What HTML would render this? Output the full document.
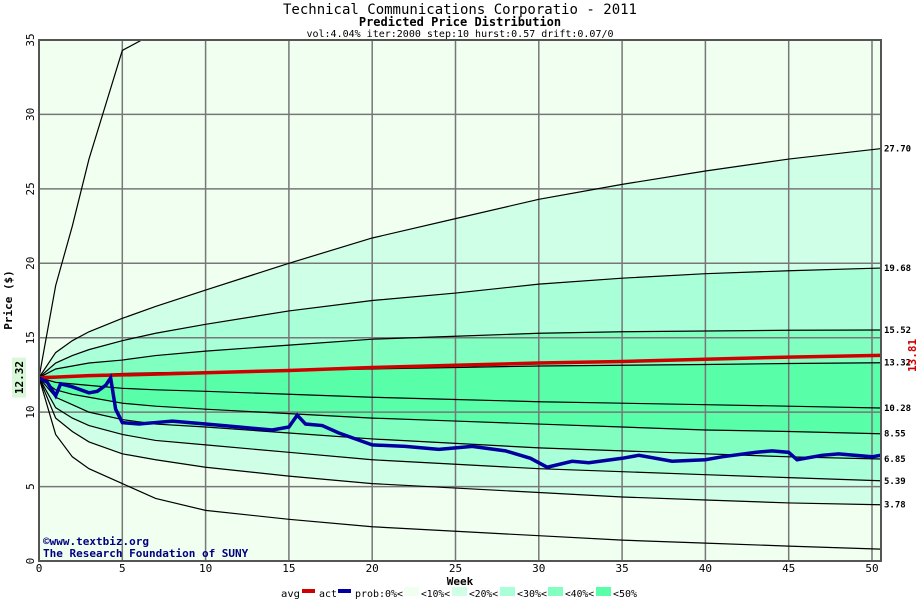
<!DOCTYPE html>
<html><head><meta charset="utf-8"><style>
body{margin:0;background:#fff}
svg text{font-family:"DejaVu Sans Mono","Liberation Mono",monospace}
</style></head><body>
<svg id="c" width="920" height="600">
<text x="460" y="14" text-anchor="middle" font-size="14">Technical Communications Corporatio - 2011</text>
<text x="460" y="26" text-anchor="middle" font-size="12" font-weight="bold">Predicted Price Distribution</text>
<text x="460" y="37" text-anchor="middle" font-size="10">vol:4.04% iter:2000 step:10 hurst:0.57 drift:0.07/0</text>
<g id="plot"></g>
</svg>
<script>
const weeks=[0,1,2,3,5,7,10,15,20,25,30,35,40,45,50.5];
const topOuter=[12.32,18.5,22.5,27,34.3,35.5,37,39,40,41,42,43,44,45,46];
const p90=[12.32,14,14.8,15.4,16.3,17.1,18.2,20,21.7,23,24.3,25.3,26.2,27,27.7];
const p80=[12.32,13.3,13.8,14.2,14.8,15.3,15.9,16.8,17.5,18,18.6,19,19.3,19.5,19.68];
const p70=[12.32,12.9,13.1,13.3,13.5,13.8,14.1,14.5,14.9,15.1,15.3,15.4,15.45,15.5,15.52];
const p60=[12.32,12.4,12.45,12.5,12.6,12.65,12.7,12.8,12.9,13,13.1,13.15,13.2,13.27,13.32];
const p50=[12.32,12,11.9,11.8,11.6,11.5,11.4,11.2,11,10.85,10.7,10.6,10.5,10.4,10.28];
const p40=[12.32,11.5,11.2,11,10.6,10.4,10.2,9.9,9.6,9.4,9.2,9,8.8,8.7,8.55];
const p30=[12.32,11,10.5,10,9.5,9.2,9,8.6,8.2,7.9,7.6,7.4,7.2,7,6.85];
const p20=[12.32,10.3,9.6,9.1,8.5,8.1,7.8,7.3,6.8,6.5,6.2,6,5.8,5.6,5.39];
const p10=[12.32,9.6,8.7,8,7.2,6.8,6.3,5.7,5.2,4.9,4.6,4.3,4.1,3.9,3.78];
const botOuter=[12.32,8.5,7,6.2,5.2,4.2,3.4,2.8,2.3,2,1.7,1.4,1.2,1,0.8];
const avgVals=[12.32,12.35,12.4,12.45,12.5,12.55,12.65,12.8,13,13.15,13.3,13.4,13.55,13.7,13.81];
const actWeeks=[0,0.5,1,1.3,2,3,3.5,4,4.3,4.6,5,6,7,8,10,12,14,15,15.5,16,17,18,20,22,24,26,28,29.5,30.5,32,33,35,36,38,40,41,43,44,45,45.5,47,48,50,50.5];
const actVals=[12.32,12,11.1,11.9,11.7,11.3,11.4,11.8,12.3,10.2,9.3,9.2,9.3,9.4,9.2,9,8.8,9,9.8,9.2,9.1,8.6,7.8,7.7,7.5,7.7,7.4,6.9,6.3,6.7,6.6,6.9,7.1,6.7,6.8,7,7.3,7.4,7.3,6.8,7.1,7.2,7,7.1];
const yTicks=[0,5,10,15,20,25,30,35];
const xTicks=[0,5,10,15,20,25,30,35,40,45,50];
const endLabels=["27.70","19.68","15.52","13.32","10.28","8.55","6.85","5.39","3.78"];
const X0=39,X1=881,Y0=561;
const xs=w=>X0+w*(872-X0)/50;
const ys=v=>Y0-v*(Y0-40)/35;
const NS="http://www.w3.org/2000/svg";
const g=document.getElementById('plot');
function mk(t,a,p){const e=document.createElementNS(NS,t);for(const k in a)e.setAttribute(k,a[k]);(p||g).appendChild(e);return e;}
const clip=mk('clipPath',{id:'cl'});mk('rect',{x:X0,y:40,width:X1-X0,height:Y0-40},clip);
const body=mk('g',{'clip-path':'url(#cl)'});
let r=mk('rect',{x:X0,y:40,width:X1-X0,height:Y0-40,fill:'#f0fff0'},body);

const pts=(ws,vs)=>ws.map((w,i)=>xs(w)+','+ys(vs[i]));
function band(a,b,col,name){const d='M'+pts(weeks,a).join('L')+'L'+pts(weeks,b).reverse().join('L')+'Z';
 const e=mk('path',{d:d,fill:col},body);}
band(p90,p10,'#d0ffe8','band-10-90');
band(p80,p20,'#a8ffd8','band-20-80');
band(p70,p30,'#80ffc0','band-30-70');
band(p60,p40,'#58ffa8','band-40-60');
xTicks.forEach(t=>{const e=mk('line',{x1:xs(t),x2:xs(t),y1:40,y2:Y0,stroke:'#777','stroke-width':1.5},body);});
yTicks.forEach(t=>{const e=mk('line',{x1:X0,x2:X1,y1:ys(t),y2:ys(t),stroke:'#777','stroke-width':1.5},body);});
[topOuter,p90,p80,p70,p60,p50,p40,p30,p20,p10,botOuter].forEach(a=>{const e=mk('polyline',{points:pts(weeks,a).join(' '),fill:'none',stroke:'#000','stroke-width':1.2},body);});
let av=mk('polyline',{points:pts(weeks,avgVals).join(' '),fill:'none',stroke:'#d00000','stroke-width':3.5},body);

let ac=mk('polyline',{points:pts(actWeeks,actVals).join(' '),fill:'none',stroke:'#0000a0','stroke-width':3.5},body);

let ax=mk('rect',{x:X0,y:40,width:X1-X0,height:Y0-40,fill:'none',stroke:'#555','stroke-width':2});

yTicks.forEach(t=>{const e=mk('text',{x:0,y:0,transform:`translate(34,${ys(t)}) rotate(-90)`,'text-anchor':'middle','font-size':11});e.textContent=t;});
xTicks.forEach(t=>{const e=mk('text',{x:xs(t),y:572,'text-anchor':'middle','font-size':11});e.textContent=t;});
[p90,p80,p70,p60,p50,p40,p30,p20,p10].forEach((a,i)=>{const e=mk('text',{x:884,y:ys(a[a.length-1])+3,'font-size':9,'font-weight':'bold'});e.textContent=endLabels[i];});
let t;
t=mk('text',{x:0,y:0,transform:`translate(916,${ys(13.81)}) rotate(-90)`,'text-anchor':'middle','font-size':11,'font-weight':'bold',fill:'#d00000'});t.textContent='13.81';
mk('rect',{x:12,y:ys(12.32)-20,width:14,height:40,fill:'#d8f8d8'});
t=mk('text',{x:0,y:0,transform:`translate(23,${ys(12.32)}) rotate(-90)`,'text-anchor':'middle','font-size':11,'font-weight':'bold'});t.textContent='12.32';
t=mk('text',{x:0,y:0,transform:'translate(12,300) rotate(-90)','text-anchor':'middle','font-size':11,'font-weight':'bold'});t.textContent='Price ($)';
t=mk('text',{x:460,y:585,'text-anchor':'middle','font-size':11,'font-weight':'bold'});t.textContent='Week';
t=mk('text',{x:43,y:545,'font-size':11,'font-weight':'bold',fill:'#000080'});t.textContent='©www.textbiz.org';
t=mk('text',{x:43,y:557,'font-size':11,'font-weight':'bold',fill:'#000080'});t.textContent='The Research Foundation of SUNY';
const lg=mk('g',{});
function lt(x,s,w){const e=mk('text',{x:x,y:597,'font-size':10,textLength:w,lengthAdjust:'spacingAndGlyphs'},lg);e.textContent=s;}
function lb(x,c,h){const e=mk('rect',{x:x,y:h?589:587,width:h?13:15,height:h?4:9,fill:c},lg);}
lt(281,'avg',19);lb(302,'#d00000',1);lt(319,'act',18);lb(338,'#0000a0',1);
lt(355,'prob:0%<',48);lb(404,'#f0fff0');lt(421,'<10%<',29);lb(452,'#d0ffe8');lt(469,'<20%<',29);lb(500,'#a8ffd8');lt(517,'<30%<',30);lb(548,'#80ffc0');lt(565,'<40%<',29);lb(596,'#58ffa8');lt(613,'<50%',24);
</script>
</body></html>
